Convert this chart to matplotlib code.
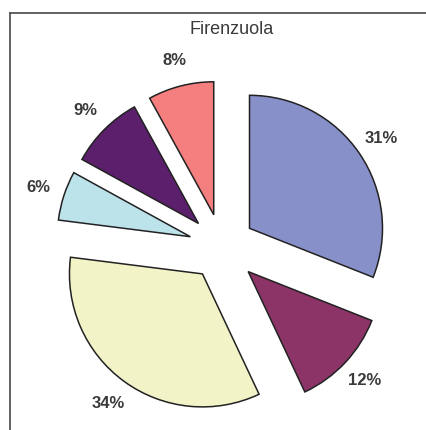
import matplotlib
matplotlib.use("Agg")
import matplotlib.pyplot as plt
from matplotlib.lines import Line2D

plt.rcParams['font.family'] = ['Liberation Sans', 'DejaVu Sans']

# slice values, clockwise from 12 o'clock
shares = [31, 12, 34, 6, 9, 8]
colors = ['#8890CA', '#8C3468', '#F3F3C8', '#BCE2EA', '#5B1F6C', '#F57E7E']
explode = [0.25, 0.27, 0.25, 0.25, 0.25, 0.25]
title = "Firenzuola"

W, H = 426, 430
fig = plt.figure(figsize=(W / 100, H / 100), dpi=100)
ax = fig.add_axes([0, 0, 1, 1])

ax.pie(shares, colors=colors, explode=explode, startangle=90, counterclock=False,
       autopct='%d%%', pctdistance=1.2,
       wedgeprops=dict(edgecolor='#222222', linewidth=1.1),
       textprops=dict(fontsize=12, color='#3a3a3a', fontweight='bold'))

# pie centre at (222, 247) px, radius 133 px
cx, cy, r = 222, 247, 133
ax.set_xlim(-cx / r, (W - cx) / r)
ax.set_ylim(-(H - cy) / r, cy / r)
ax.axis('off')

fig.text(232 / W, 1 - 30 / H, title, ha='center', va='center', fontsize=13, color='#3a3a3a')

# partial frame (left and top edges)
fig.add_artist(Line2D([10 / W, 10 / W], [0, 1 - 13 / H], color='#555555', lw=1.3))
fig.add_artist(Line2D([10 / W, 1], [1 - 13 / H, 1 - 13 / H], color='#555555', lw=1.3))

fig.savefig("out.png", dpi=100)
